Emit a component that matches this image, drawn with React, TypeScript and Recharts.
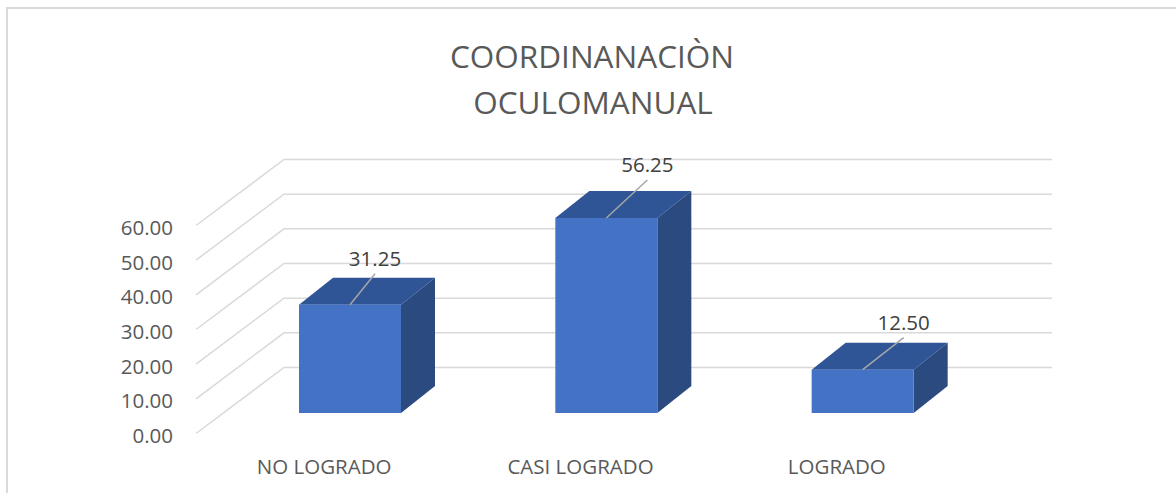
import { BarChart, Bar, XAxis, YAxis, CartesianGrid, LabelList } from 'recharts';

const categories = ['NO LOGRADO', 'CASI LOGRADO', 'LOGRADO'];
const percentages = [31.25, 56.25, 12.5];
const yTicks = [0, 10, 20, 30, 40, 50, 60];

const data = categories.map((name, i) => ({ name, value: percentages[i] }));

// layout of the fake 3D box (Excel-style oblique projection)
const W = 1176;
const H = 493;
const PLOT_LEFT = 222;
const PLOT_RIGHT = 991;
const PLOT_TOP = 205;
const PLOT_BOTTOM = 413;
const BAR_DX = 34;
const BAR_DY = 27;
const FRONT_X = 196;
const WALL_DX = 88;
const FRONT_DY = 20.5;
const BACK_DY = 45.5;
const GRID_END = 1052;
// leader line offsets, one per bar
const LEADERS = [
  { dx: 25, dy: 31 },
  { dx: 41, dy: 38 },
  { dx: 41, dy: 32 },
];

const FONT = '"Open Sans", "Liberation Sans", sans-serif';

const gridLine = (props: any) => {
  const y = props.y1;
  return (
    <path
      key={props.key ?? y}
      d={`M${FRONT_X},${y + FRONT_DY} L${FRONT_X + WALL_DX},${y - BACK_DY} L${GRID_END},${y - BACK_DY}`}
      fill="none"
      stroke="#d9d9d9"
      strokeWidth={1.5}
    />
  );
};

const YTick = (props: any) => (
  <text
    x={173}
    y={props.y + 22}
    textAnchor="end"
    dominantBaseline="central"
    fill="#595959"
    fontSize={20.5}
    fontFamily={FONT}
  >
    {Number(props.payload.value).toFixed(2)}
  </text>
);

const XTick = (props: any) => (
  <text
    x={props.x - 26}
    y={PLOT_BOTTOM + 52.5}
    textAnchor="middle"
    dominantBaseline="central"
    fill="#595959"
    fontSize={20.5}
    fontFamily={FONT}
  >
    {props.payload.value}
  </text>
);

const Bar3D = (props: any) => {
  const { x, y, width, height } = props;
  return (
    <g>
      <polygon
        points={`${x},${y} ${x + BAR_DX},${y - BAR_DY} ${x + width + BAR_DX},${y - BAR_DY} ${x + width},${y}`}
        fill="#2F5597"
      />
      <polygon
        points={`${x + width},${y} ${x + width + BAR_DX},${y - BAR_DY} ${x + width + BAR_DX},${y + height - BAR_DY} ${x + width},${y + height}`}
        fill="#2A4A80"
      />
      <rect x={x} y={y} width={width} height={height} fill="#4472C4" />
    </g>
  );
};

const DataLabel = (props: any) => {
  const { x, y, width, value, index } = props;
  const l = LEADERS[index] || LEADERS[0];
  const cx = x + width / 2;
  return (
    <g>
      <line x1={cx} y1={y} x2={cx + l.dx} y2={y - l.dy} stroke="#a6a6a6" strokeWidth={1.5} />
      <text
        x={cx + l.dx}
        y={y - l.dy - 16}
        textAnchor="middle"
        dominantBaseline="central"
        fill="#404040"
        fontSize={20.5}
        fontFamily={FONT}
      >
        {Number(value).toFixed(2)}
      </text>
    </g>
  );
};

export default function App() {
  return (
    <div style={{ position: 'relative', width: W, height: H, background: '#fff', overflow: 'hidden' }}>
      <style>{'body{margin:0}'}</style>
      <div
        style={{
          position: 'absolute',
          left: 6,
          top: 7,
          width: W + 20,
          height: H + 20,
          borderTop: '2px solid #d9d9d9',
          borderLeft: '2px solid #d9d9d9',
        }}
      />
      <svg width={W} height={130} style={{ position: 'absolute', left: 0, top: 0 }}>
        <text x={592} y={67.5} textAnchor="middle" fill="#595959" fontSize={31.5} fontFamily={FONT}>
          COORDINANACIÒN
        </text>
        <text x={593} y={113.5} textAnchor="middle" fill="#595959" fontSize={31.5} fontFamily={FONT}>
          OCULOMANUAL
        </text>
      </svg>
      <div style={{ position: 'absolute', left: 0, top: 0 }}>
        <BarChart
          width={W}
          height={H}
          data={data}
          margin={{ top: PLOT_TOP, right: W - PLOT_RIGHT, bottom: H - PLOT_BOTTOM - 30, left: PLOT_LEFT - 60 }}
        >
          <CartesianGrid horizontal={gridLine} vertical={false} />
          <YAxis
            domain={[0, 60]}
            ticks={yTicks}
            width={60}
            axisLine={false}
            tickLine={false}
            tick={<YTick />}
            interval={0}
          />
          <XAxis dataKey="name" height={30} axisLine={false} tickLine={false} tick={<XTick />} interval={0} />
          <Bar dataKey="value" barSize={102} shape={<Bar3D />} isAnimationActive={false}>
            <LabelList dataKey="value" content={<DataLabel />} />
          </Bar>
        </BarChart>
      </div>
    </div>
  );
}
